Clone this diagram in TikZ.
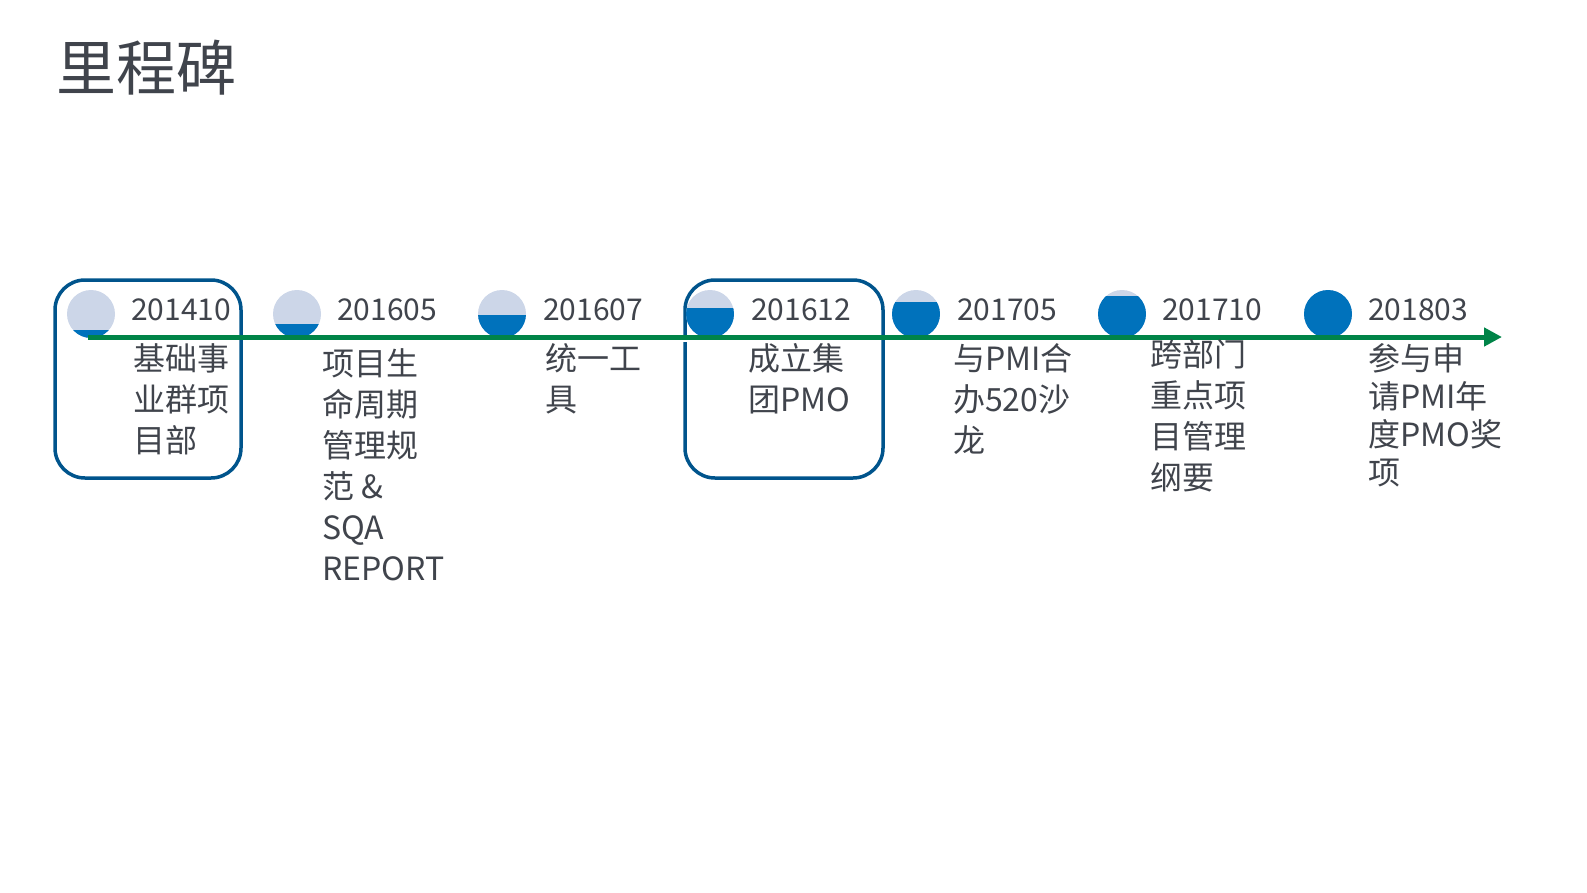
\documentclass[tikz,border=0pt]{standalone}
\usepackage{fontspec}
\setmainfont{Noto Sans CJK SC}
\usetikzlibrary{arrows.meta}
\definecolor{txt}{RGB}{64,68,76}
\definecolor{lite}{RGB}{204,214,232}
\definecolor{fillb}{RGB}{0,114,188}
\definecolor{boxc}{RGB}{0,84,140}
\definecolor{lineg}{RGB}{0,132,72}
\tikzset{
  date/.style={font=\fontsize{30}{30}\selectfont, text=txt, anchor=west, inner sep=0},
  desc/.style={font=\fontsize{32}{41}\selectfont, text=txt, anchor=north west, align=left, inner sep=0},
  hbox/.style={draw=boxc, line width=3.5pt, rounded corners=30pt},
}
\begin{document}
\begin{tikzpicture}[x=1pt,y=-1pt]
\useasboundingbox (0,0) rectangle (1587,892);
\node[font=\fontsize{60}{60}\selectfont, text=txt, anchor=west, inner sep=0] (title) at (56,68) {里程碑};
\draw[hbox] (55,280) rectangle (241,478);
\draw[hbox] (685,280) rectangle (883,478);
\coordinate (ls) at (88,337);
\coordinate (le) at (1502,337);
\draw[lineg, line width=5pt, -{Triangle[length=18pt,width=18pt]}] (ls) -- (le);
\foreach \x/\lev [count=\i] in {91/330, 297/324, 502/315, 710/308, 916/302, 1122/296, 1328/280}{
  \fill[lite] (\x,314) circle (24);
  \begin{scope}
    \clip (\x,314) circle (24);
    \fill[fillb] (\x-24,\lev) rectangle (\x+24,338);
  \end{scope}
  \fill[white] (\x-30,338) rectangle (\x+30,342);
}
\draw[lineg, line width=5pt] (88,337) -- (1490,337);
\node[date] (d1) at (131,310) {201410};
\node[date] (d2) at (337,310) {201605};
\node[date] (d3) at (543,310) {201607};
\node[date] (d4) at (751,310) {201612};
\node[date] (d5) at (957,310) {201705};
\node[date] (d6) at (1162,310) {201710};
\node[date] (d7) at (1368,310) {201803};
\node[desc] (t1) at (133,343) {基础事\\业群项\\目部};
\node[desc] (t2) at (322,348) {项目生\\命周期\\管理规\\范 \&\\SQA\\REPORT};
\node[desc] (t3) at (545,343) {统一工\\具};
\node[desc] (t4) at (748,343) {成立集\\团PMO};
\node[desc] (t5) at (953,343) {与PMI合\\办520沙\\龙};
\node[desc] (t6) at (1150,339) {跨部门\\重点项\\目管理\\纲要};
\node[desc, font=\fontsize{32}{38}\selectfont] (t7) at (1368,343) {参与申\\请PMI年\\度PMO奖\\项};
\end{tikzpicture}
\end{document}
